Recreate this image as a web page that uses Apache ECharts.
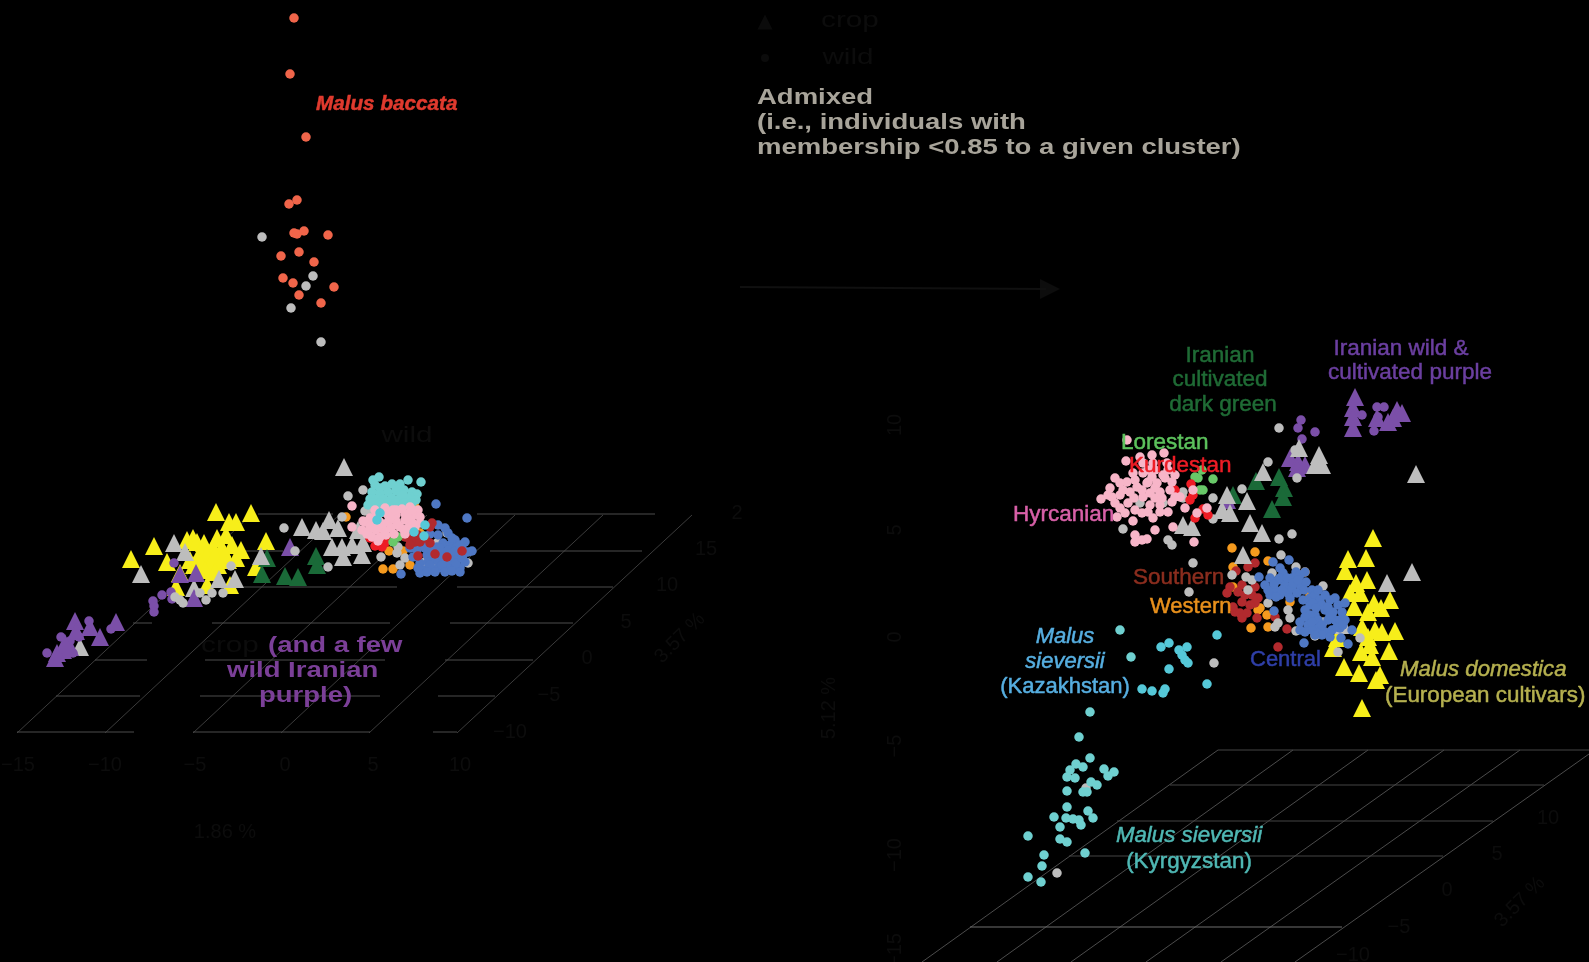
<!DOCTYPE html>
<html><head><meta charset="utf-8">
<script src="https://cdn.jsdelivr.net/npm/echarts@6/dist/echarts.min.js"></script>
<style>html,body{margin:0;padding:0;background:#000}#c{width:1589px;height:962px}</style>
</head><body><div id="c"></div>
<script>
// ---- Left panel (projected x, projected y) ----
const baccataWild=[[294,18],[290,74],[306,137],[297,200],[289,204],[294,233],[297,234],[304,231],[328,235],[281,256],[299,252],[314,262],[283,278],[293,283],[334,287],[299,295],[321,303]];
const baccataAdmixed=[[262,237],[313,276],[306,286],[291,308],[321,342]];
const leftYellowCrop=[[216,512],[251,513],[229,522],[236,522],[154,546],[131,559],[167,562],[193,538],[187,540],[197,542],[204,543],[217,538],[226,535],[232,545],[266,541],[241,550],[222,548],[213,547],[200,553],[207,555],[190,560],[200,562],[210,565],[218,565],[228,560],[230,585],[207,585],[176,587],[256,567],[180,573],[215,555],[225,555],[205,570],[215,572],[236,558],[194,565]];
const leftGrayCrop=[[344,467],[174,543],[185,552],[141,574],[261,556],[219,579],[235,579],[194,588],[302,527],[316,530],[323,531],[329,520],[338,528],[332,547],[342,547],[352,545],[343,557],[362,555],[358,530],[363,543],[80,647]];
const leftGrayWild=[[284,528],[348,496],[363,490],[342,517],[328,567],[231,566],[223,593],[212,593],[206,600],[200,593],[183,603],[175,597],[180,600],[295,551],[365,511],[370,512],[388,511],[381,557],[398,547],[397,553],[405,558],[400,565],[425,562],[435,548],[433,565],[448,558],[468,563],[447,533],[402,492],[437,543]];
const leftPurpleCrop=[[290,547],[180,574],[196,573],[194,598],[75,621],[76,631],[90,627],[100,637],[116,622],[55,658],[63,650],[70,647],[57,653],[65,643]];
const leftPurpleWild=[[174,563],[162,595],[171,592],[172,599],[153,601],[154,606],[154,612],[89,621],[111,629],[61,637],[47,653],[70,641],[73,653],[79,637]];
const leftGreenCrop=[[316,556],[317,565],[262,574],[285,576],[298,577],[267,558]];
const leftCyanWild=[[379,477],[373,480],[408,480],[421,482],[375,485],[385,486],[392,484],[400,484],[412,492],[417,494],[372,492],[380,493],[388,492],[396,491],[404,490],[410,497],[370,499],[376,499],[384,499],[392,498],[400,498],[408,499],[416,500],[368,505],[376,506],[384,505],[392,505],[400,506],[408,505],[380,488],[396,487],[403,495],[388,503],[396,503],[372,503],[380,503],[404,503],[412,503]];
const leftPinkWild=[[352,506],[352,527],[363,521],[367,534],[375,510],[385,508],[393,510],[402,509],[410,507],[418,510],[370,518],[378,515],[388,515],[396,515],[405,514],[413,515],[420,517],[365,522],[372,524],[380,522],[388,522],[396,521],[405,520],[412,522],[420,523],[362,530],[368,532],[376,530],[384,530],[391,528],[400,527],[408,528],[415,527],[372,537],[380,537],[386,535],[394,534],[405,534],[378,541],[382,526],[390,518],[398,525],[376,518],[408,518],[384,512],[396,510],[370,527],[378,527],[404,530],[412,510]];
const leftCyanOverlay=[[380,513],[377,520],[425,525],[424,536],[414,532]];
const leftRedWild=[[382,532],[386,537],[370,538],[375,546],[382,547],[385,543]];
const leftLimeWild=[[393,542],[398,537],[395,537]];
const leftOrangeWild=[[389,551],[403,551],[383,569],[393,569],[410,565],[415,507],[346,517],[420,533]];
const leftBlueWild=[[436,504],[467,518],[401,574],[438,525],[445,528],[448,533],[455,540],[465,542],[472,551],[410,548],[417,550],[423,545],[427,555],[437,547],[443,543],[450,545],[457,547],[463,555],[468,552],[420,563],[425,570],[432,570],[438,568],[445,568],[452,567],[460,568],[465,562],[430,557],[440,562],[448,562],[457,558],[413,557],[420,573],[442,552],[452,552],[458,552],[428,562],[435,560],[443,557],[450,560],[456,563],[462,558],[425,548],[432,550],[440,548],[448,550],[455,551],[462,548],[418,568],[430,565],[442,565],[435,572],[427,572],[445,572],[452,571],[460,572],[430,534],[438,535],[452,538],[460,545]];
const leftDarkRedWild=[[410,540],[415,542],[420,542],[430,543],[462,551],[418,556],[435,554],[447,557],[430,527],[412,535],[432,523],[405,537],[418,535],[410,545],[425,538]];

// ---- Right panel (projected x, projected y) ----
const rightPurpleCrop=[[1355,397],[1353,408],[1353,417],[1353,428],[1377,418],[1397,410],[1402,413],[1393,418],[1388,422],[1290,458],[1298,462],[1297,468],[1305,465],[1227,500]];
const rightPurpleWild=[[1301,420],[1298,428],[1315,432],[1302,439],[1374,431],[1362,415],[1377,407],[1384,407],[1378,417]];
const rightGrayCrop=[[1299,448],[1319,455],[1319,462],[1315,465],[1322,465],[1263,472],[1416,474],[1227,495],[1247,501],[1230,513],[1222,510],[1250,523],[1262,533],[1192,527],[1183,525],[1243,555],[1387,583],[1412,572],[1343,625]];
const rightGrayWild=[[1279,428],[1295,450],[1268,462],[1297,478],[1242,489],[1213,498],[1183,492],[1183,498],[1160,497],[1163,503],[1140,503],[1213,519],[1123,529],[1279,539],[1292,534],[1168,540],[1172,545],[1193,563],[1189,592],[1281,555],[1296,567],[1232,575],[1246,577],[1252,580],[1248,590],[1272,573],[1323,586],[1268,603],[1288,610],[1290,618],[1275,627],[1278,623],[1296,631],[1315,636],[1323,622],[1360,638],[1338,652],[1214,663],[1086,788],[1057,873]];
const rightGreenCrop=[[1233,495],[1256,481],[1279,477],[1284,488],[1283,497],[1272,509]];
const rightLimeWild=[[1198,478],[1213,479],[1203,490],[1200,490],[1195,477],[1202,470]];
const rightRedWild=[[1191,484],[1190,500],[1193,495],[1203,509],[1208,515],[1195,518],[1175,490]];
const rightPinkWild=[[1127,440],[1126,461],[1140,457],[1152,455],[1164,453],[1133,473],[1143,463],[1153,463],[1167,463],[1115,478],[1127,482],[1110,488],[1123,490],[1130,492],[1137,487],[1148,482],[1157,483],[1165,478],[1172,482],[1170,490],[1160,492],[1150,493],[1143,497],[1112,497],[1101,499],[1115,503],[1128,503],[1120,508],[1125,513],[1117,517],[1133,521],[1142,513],[1153,518],[1150,505],[1160,505],[1168,512],[1160,512],[1172,502],[1155,498],[1185,508],[1193,490],[1173,527],[1155,530],[1135,535],[1135,542],[1142,540],[1147,539],[1194,542],[1152,477],[1163,475],[1168,470],[1197,513],[1207,508],[1143,473],[1147,483],[1120,495],[1134,498],[1135,480],[1142,490],[1155,488],[1162,498],[1175,497],[1180,497],[1120,483],[1108,495],[1135,510],[1148,512],[1155,470],[1175,475],[1148,470]];
const rightOrangeWild=[[1232,548],[1255,552],[1233,567],[1268,561],[1233,587],[1260,608],[1267,615],[1251,628],[1268,627],[1305,572],[1290,602],[1310,595],[1307,615],[1258,610]];
const rightDarkRedWild=[[1255,563],[1248,567],[1236,571],[1230,587],[1227,593],[1242,585],[1255,587],[1252,595],[1258,598],[1255,603],[1242,602],[1235,612],[1240,613],[1242,618],[1247,613],[1257,618],[1275,617],[1287,629],[1278,647],[1245,595],[1250,605],[1238,592],[1233,607]];
const rightBlueWild=[[1273,562],[1289,560],[1280,568],[1259,577],[1274,611],[1304,643],[1352,630],[1341,638],[1348,644],[1265,585],[1270,578],[1275,590],[1278,580],[1283,573],[1285,585],[1288,593],[1292,578],[1296,572],[1300,575],[1305,572],[1300,585],[1306,582],[1292,588],[1280,595],[1270,595],[1312,590],[1310,598],[1315,595],[1310,605],[1318,590],[1320,600],[1325,610],[1315,615],[1305,610],[1300,622],[1308,625],[1318,628],[1325,632],[1332,630],[1340,628],[1335,620],[1342,612],[1330,600],[1338,605],[1345,603],[1328,620],[1312,630],[1322,635],[1333,612],[1318,620],[1268,590],[1274,584],[1280,578],[1287,578],[1293,583],[1298,580],[1304,590],[1282,590],[1276,597],[1290,598],[1297,593],[1303,600],[1313,603],[1322,605],[1316,608],[1310,615],[1305,617],[1312,622],[1322,625],[1330,615],[1337,627],[1325,595],[1335,598],[1328,607],[1340,620],[1300,630],[1305,632],[1315,635],[1330,637],[1345,620],[1343,625]];
const kazakhWild=[[1217,635],[1161,647],[1169,643],[1187,647],[1179,650],[1182,655],[1185,660],[1188,663],[1169,669],[1207,684],[1142,689],[1152,691],[1165,689],[1163,693]];
const kyrgyzWild=[[1120,630],[1131,657],[1090,712],[1079,737],[1090,758],[1076,764],[1083,767],[1070,770],[1067,777],[1075,778],[1104,769],[1114,772],[1108,776],[1091,782],[1097,785],[1067,791],[1083,792],[1087,792],[1067,807],[1088,811],[1093,818],[1054,817],[1066,818],[1073,819],[1079,820],[1081,825],[1060,827],[1028,836],[1060,839],[1067,842],[1085,853],[1044,855],[1042,866],[1028,877],[1041,882]];
const rightYellowCrop=[[1373,538],[1348,559],[1366,558],[1345,571],[1367,580],[1356,583],[1350,593],[1360,593],[1390,600],[1374,603],[1354,607],[1381,608],[1368,612],[1362,627],[1375,630],[1382,632],[1395,631],[1368,637],[1337,638],[1333,648],[1370,645],[1361,652],[1372,657],[1389,651],[1344,667],[1359,673],[1380,675],[1376,680],[1362,708]];

// ---- 3D floor grid segments (x1,y1,x2,y2) ----
const leftFloorDiagonals=[[17,733,251,515],[105,733,339,515],[193,733,427,515],[281,733,515,515],[369,733,603,515],[457,733,692,515]];
const leftFloorRows=[[258,514,333,514],[477,514,655,514],[233,551,283,551],[490,551,642,551],[240,587,397,587],[457,587,613,587],[133,623,152,623],[212,623,390,623],[450,623,573,623],[95,660,147,660],[205,660,385,660],[445,660,533,660],[56,696,140,696],[200,696,380,696],[438,696,495,696],[17,732,134,732],[193,732,370,732],[433,732,457,732]];
const rightFloorDiagonals=[[922,962,1218,750],[997,962,1293,750],[1071,962,1368,750],[1146,962,1444,750],[1221,962,1520,750],[1295,962,1589,754]];
const rightFloorRows=[[1218,750,1589,750],[1170,785,1544,785],[1117,821,1493,821],[1069,856,1443,856]];
const rightFloorFrontRow=[[970,927,1342,927]];
const arrowLine=[[740,287],[1046,289]];
const arrowHead=[[1050,289]];
const legendCropMark=[[765,22]];
const legendWildMark=[[765,58]];

// ---- Text ----
const DARK='#0c0c0c';
const SANS='"Liberation Sans", Arial, sans-serif';
const clusterLabels=[
 ['Malus baccata',316,104,'#e03a2e','italic bold 20.7px','left'],
 ['Iranian',1220,356,'#1f6b35','22.5px','center'],['cultivated',1220,380,'#1f6b35','22.5px','center'],['dark green',1223,405,'#1f6b35','22.5px','center'],
 ['Iranian wild &',1401,349,'#6b3fa0','22.5px','center'],['cultivated purple',1410,373,'#6b3fa0','22.5px','center'],
 ['Lorestan',1121,443,'#5cc25c','22.5px','left'],['Kurdestan',1129,466,'#ee1c25','22.5px','left'],['Hyrcanian',1013,515,'#d860a8','22.5px','left'],
 ['Southern',1133,578,'#8b2d1e','22.5px','left'],['Western',1150,607,'#e8901c','22px','left'],['Central',1250,660,'#2f3fa8','22px','left'],
 ['Malus domestica',1400,670,'#b5b04f','italic 22.2px','left'],['(European cultivars)',1385,696,'#b5b04f','22.4px','left'],
 ['Malus',1065,637,'#56aee0','italic 22px','center'],['sieversii',1065,662,'#56aee0','italic 22px','center'],['(Kazakhstan)',1065,687,'#56aee0','22px','center'],
 ['Malus sieversii',1189,836,'#4fb8b4','italic 22.3px','center'],['(Kyrgyzstan)',1189,862,'#4fb8b4','22.4px','center']
];
const wideLabels=[
 ['Admixed',757,98,'#a8a49a'],['(i.e., individuals with',757,123,'#a8a49a'],['membership <0.85 to a given cluster)',757,148,'#a8a49a'],
 ['(and a few',268,646,'#7b3f98'],['wild Iranian',227,671,'#7b3f98'],['purple)',259,696,'#7b3f98']
];
const faintWideLabels=[['crop',850,21],['wild',848,58],['wild',407,436],['crop',230,646]];
const faintLabels=[
 ['1.86 %',225,832,0],
 ['\u221215',18,765,0],['\u221210',105,765,0],['\u22125',195,765,0],['0',285,765,0],['5',373,765,0],['10',460,765,0],
 ['2',737,513,0],['15',706,549,0],['10',667,585,0],['5',626,622,0],['0',587,658,0],['\u22125',549,695,0],['\u221210',510,732,0],['3.57 %',680,638,45],
 ['10',895,425,90],['5',895,530,90],['0',895,637,90],['\u22125',895,746,90],['\u221210',895,855,90],['\u221215',895,950,90],['5.12 %',829,708,90],
 ['10',1548,818,0],['5',1497,854,0],['0',1447,890,0],['\u22125',1399,927,0],['\u221210',1353,955,0],['3.57 %',1520,902,45]
];

const COL={gray:'#bdbdbd',yellow:'#f7ee1a',purple:'#7b4fa8',green:'#1a6a38',pink:'#f7b5c8',blue:'#4f78c4',dred:'#b22a2e',orange:'#f59a1e',cyan:'#6fd0d0',bcyan:'#55c8d8',tomato:'#f0654a',lime:'#68c868',red:'#ee1c25'};
const DOT=9.5, TRI=18;
const pts=(data,color,isTri)=>({type:'scatter',data,symbol:isTri?'triangle':'circle',symbolSize:isTri?TRI:DOT,itemStyle:{color,opacity:1},silent:true,animation:false});
const segs=(list,color)=>({type:'line',data:list.flatMap(s=>[[s[0],s[1]],[s[2],s[3]],'-']),showSymbol:false,symbol:'none',connectNulls:false,lineStyle:{color,width:1},silent:true,animation:false});

const series=[
 segs(leftFloorDiagonals,'#3c3c3c'),segs(leftFloorRows,'#4c4c4c'),
 segs(rightFloorDiagonals,'#4c4c4c'),segs(rightFloorRows,'#444444'),segs(rightFloorFrontRow,'#6e6e6e'),
 {type:'line',data:arrowLine,symbol:'none',lineStyle:{color:'#101010',width:2},silent:true,animation:false},
 {type:'scatter',data:arrowHead,symbol:'triangle',symbolRotate:-90,symbolSize:20,itemStyle:{color:'#101010'},silent:true,animation:false},
 {type:'scatter',data:legendCropMark,symbol:'triangle',symbolSize:15,itemStyle:{color:'#0e0e0e'},silent:true,animation:false},
 {type:'scatter',data:legendWildMark,symbol:'circle',symbolSize:8,itemStyle:{color:'#0e0e0e'},silent:true,animation:false},
 pts(baccataWild,COL.tomato),pts(baccataAdmixed,COL.gray),
 pts(leftYellowCrop,COL.yellow,true),pts(leftGreenCrop,COL.green,true),pts(leftGrayCrop,COL.gray,true),
 pts(leftPurpleWild,COL.purple),pts(leftPurpleCrop,COL.purple,true),
 pts(leftOrangeWild,COL.orange),pts(leftGrayWild,COL.gray),pts(leftCyanWild,COL.cyan),pts(leftBlueWild,COL.blue),pts(leftDarkRedWild,COL.dred),
 pts(leftRedWild,COL.red),pts(leftLimeWild,COL.lime),pts(leftPinkWild,COL.pink),pts(leftCyanOverlay,COL.bcyan),
 pts(rightYellowCrop,COL.yellow,true),pts(rightPurpleCrop,COL.purple,true),pts(rightPurpleWild,COL.purple),pts(rightGreenCrop,COL.green,true),
 pts(rightOrangeWild,COL.orange),pts(rightDarkRedWild,COL.dred),pts(rightGrayCrop,COL.gray,true),pts(rightGrayWild,COL.gray),
 pts(rightLimeWild,COL.lime),pts(rightRedWild,COL.red),pts(rightPinkWild,COL.pink),pts(rightBlueWild,COL.blue),
 pts(kazakhWild,COL.bcyan),pts(kyrgyzWild,COL.cyan)
];
series.forEach(s=>{s.z=2;s.clip=false;});

const txt=(text,x,y,fill,font,align,extra,bold)=>Object.assign({type:'text',x,y,z:50,silent:true,style:Object.assign({text,fill,font,textAlign:align,textVerticalAlign:'middle'},bold?{stroke:fill,lineWidth:0.5}:{})},extra||{});
const graphic=[
 ...faintLabels.map(l=>txt(l[0],l[1],l[2],DARK,'20px '+SANS,'center',{rotation:l[3]*Math.PI/180})),
 ...faintWideLabels.map(l=>txt(l[0],l[1],l[2],DARK,'22px '+SANS,'center',{scaleX:1.35})),
 ...clusterLabels.map(l=>txt(l[0],l[1],l[2],l[3],l[4]+' '+SANS,l[5],null,true)),
 ...wideLabels.map(l=>txt(l[0],l[1],l[2],l[3],'bold 22px '+SANS,'left',{scaleX:1.25}))
];

const chart=echarts.init(document.getElementById('c'),null,{renderer:'canvas'});
chart.setOption({
 backgroundColor:'#000',animation:false,
 grid:{left:0,right:0,top:0,bottom:0},
 xAxis:{type:'value',min:0,max:1589,show:false},
 yAxis:{type:'value',min:0,max:962,inverse:true,show:false},
 tooltip:{show:false},
 series,graphic
});
</script></body></html>
